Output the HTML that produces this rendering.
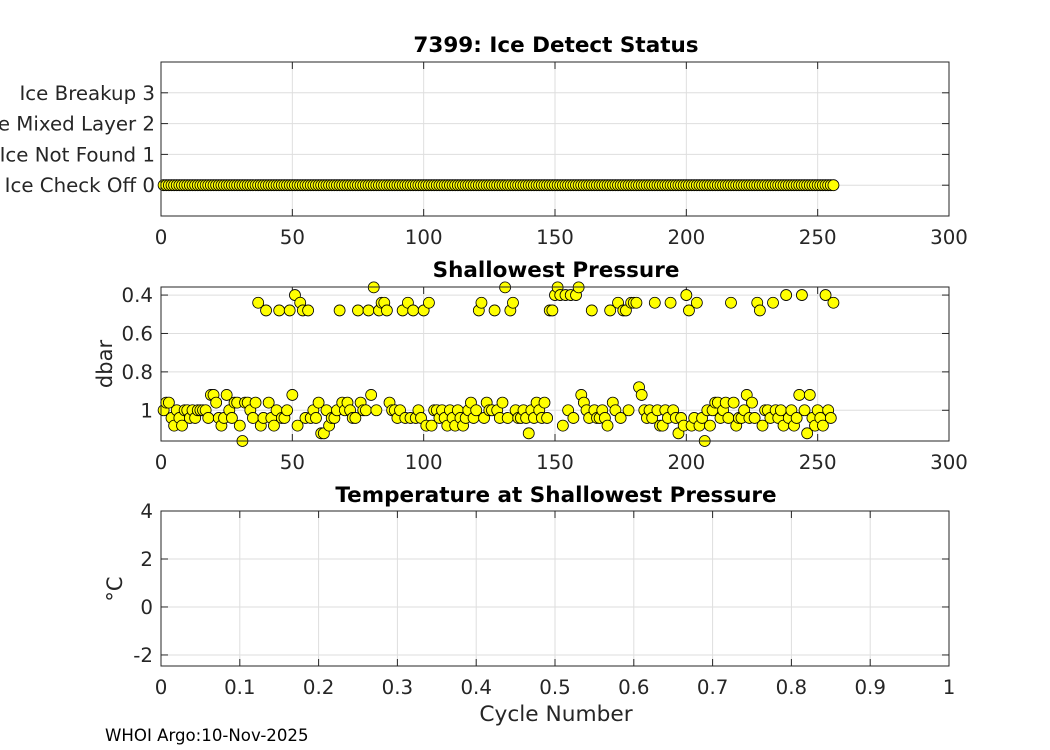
<!DOCTYPE html>
<html><head><meta charset="utf-8"><style>
html,body{margin:0;padding:0;background:#fff;}
svg{display:block;font-family:"DejaVu Sans","Liberation Sans",sans-serif;}
</style></head><body>
<svg id="chart" width="1050" height="750" viewBox="0 0 1050 750"></svg>
<script>
const iceCycles = Array.from({length:256},(_,i)=>i+1);
const iceStatus = Array.from({length:256},()=>0);
const iceTickLabels = ["Ice Check Off 0","Ice Not Found 1","Ice Mixed Layer 2","Ice Breakup 3"];
const iceTickValues = [0,1,2,3];
const pressureValues = [
1.0,0.96,0.96,1.04,1.08,1.0,1.04,1.08,1.0,1.0,
1.04,1.0,1.04,1.0,1.0,1.0,1.0,1.04,0.92,0.92,
0.96,1.04,1.08,1.04,0.92,1.0,1.04,0.96,0.96,1.08,
1.16,0.96,0.96,1.0,1.04,0.96,0.44,1.08,1.04,0.48,
0.96,1.04,1.08,1.0,0.48,1.04,1.04,1.0,0.48,0.92,
0.40,1.08,0.44,0.48,1.04,0.48,1.04,1.0,1.04,0.96,
1.12,1.12,1.0,1.08,1.04,1.04,1.0,0.48,0.96,1.0,
0.96,1.0,1.04,1.04,0.48,0.96,1.0,1.0,0.48,0.92,
0.36,1.0,0.48,0.44,0.44,0.48,0.96,1.0,1.0,1.04,
1.0,0.48,1.04,0.44,1.04,0.48,1.04,1.0,1.04,0.48,
1.08,0.44,1.08,1.0,1.0,1.04,1.0,1.04,1.08,1.0,
1.04,1.08,1.0,1.04,1.08,1.04,1.0,0.96,1.04,1.0,
0.48,0.44,1.04,0.96,1.0,1.0,0.48,1.0,1.04,0.96,
0.36,1.04,0.48,0.44,1.0,1.04,1.04,1.0,1.04,1.12,
1.0,1.04,0.96,1.0,1.04,0.96,1.04,0.48,0.48,0.40,
0.36,0.40,1.08,0.40,1.0,0.40,1.04,0.40,0.36,0.92,
0.96,1.0,1.04,0.48,1.0,1.04,1.04,1.0,1.04,1.08,
0.48,0.96,1.0,0.44,1.04,0.48,0.48,1.0,0.44,0.44,
0.44,0.88,0.92,1.0,1.04,1.0,1.04,0.44,1.0,1.08,
1.08,1.0,1.04,0.44,1.0,1.04,1.12,1.04,1.08,0.40,
0.48,1.08,1.04,0.44,1.08,1.04,1.16,1.0,1.08,1.0,
0.96,0.96,1.04,1.0,0.96,1.04,0.44,0.96,1.08,1.04,
1.04,1.0,0.92,1.04,0.96,1.04,0.44,0.48,1.08,1.0,
1.0,1.04,0.44,1.0,1.04,1.0,1.08,0.40,1.04,1.0,
1.08,1.04,0.92,0.40,1.0,1.12,0.92,1.04,1.08,1.0,
1.04,1.08,0.40,1.0,1.04,0.44];
const pressureCycles = Array.from({length:pressureValues.length},(_,i)=>i+1);
const xTicks300 = [0,50,100,150,200,250,300];
const pressureTicks = [0.4,0.6,0.8,1];
const pressureTickLabels = ["0.4","0.6","0.8","1"];
const tempTicks = [-2,0,2,4];
const xTicks1 = [0,0.1,0.2,0.3,0.4,0.5,0.6,0.7,0.8,0.9,1];

const NS="http://www.w3.org/2000/svg";
const svg=document.getElementById('chart');
function mk(tag,attrs,parent){const e=document.createElementNS(NS,tag);for(const k in attrs)e.setAttribute(k,attrs[k]);(parent||svg).appendChild(e);return e;}
function txt(s,attrs){const e=mk('text',attrs);e.textContent=s;return e;}
const L=161,R=949;
const TF=19.8;

function axes(top,bot,xmin,xmax,ymin,ymax,yrev,name){
  const g=mk('g',{});
  
  
  const sx=v=>L+(v-xmin)/(xmax-xmin)*(R-L);
  const sy=yrev?(v=>top+(v-ymin)/(ymax-ymin)*(bot-top)):(v=>bot-(v-ymin)/(ymax-ymin)*(bot-top));
  mk('rect',{x:L,y:top,width:R-L,height:bot-top,fill:'#fff'},g);
  return {g,sx,sy,top,bot};
}
function grid(ax,xt,yt,xlabels,ylabels,ylx){
  const g=ax.g;
  xt.forEach((v,i)=>{const x=ax.sx(v);
    mk('line',{x1:x,x2:x,y1:ax.top,y2:ax.bot,stroke:'#dedede','stroke-width':1},g);
    mk('line',{x1:x,x2:x,y1:ax.bot,y2:ax.bot-7,stroke:'#262626'},g);
    mk('line',{x1:x,x2:x,y1:ax.top,y2:ax.top+7,stroke:'#262626'},g);
    const t=txt(xlabels[i],{x:x,y:ax.bot+28,'font-size':TF,'text-anchor':'middle',fill:'#262626'});
    
    
  });
  yt.forEach((v,i)=>{const y=ax.sy(v);
    mk('line',{x1:L,x2:R,y1:y,y2:y,stroke:'#dedede','stroke-width':1},g);
    mk('line',{x1:L,x2:L+7,y1:y,y2:y,stroke:'#262626'},g);
    mk('line',{x1:R,x2:R-7,y1:y,y2:y,stroke:'#262626'},g);
    const t=txt(ylabels[i],{x:ylx,y:y+7,'font-size':TF,'text-anchor':'end',fill:'#262626'});
    
    
  });
}
function frame(ax){mk('rect',{x:L,y:ax.top,width:R-L,height:ax.bot-ax.top,fill:'none',stroke:'#262626','stroke-width':1});}

// Top: ice status
const a1=axes(62,216,0,300,-1,4,false,'ice-status-axes');
grid(a1,xTicks300,iceTickValues,xTicks300.map(String),iceTickLabels,155);
iceCycles.forEach((c,i)=>{const p=mk('circle',{cx:a1.sx(c),cy:a1.sy(iceStatus[i]),r:5.5,fill:'#ffff00',stroke:'#000','stroke-width':0.8});
  
  });
frame(a1);
let t=txt('7399: Ice Detect Status',{x:556,y:52,'font-size':21.5,'font-weight':'bold','text-anchor':'middle',fill:'#000'});


// Middle: pressure
const a2=axes(287,441,0,300,0.358,1.16,true,'pressure-axes');
grid(a2,xTicks300,pressureTicks,xTicks300.map(String),pressureTickLabels,153);
pressureCycles.forEach((c,i)=>{const p=mk('circle',{cx:a2.sx(c),cy:a2.sy(pressureValues[i]),r:5.5,fill:'#ffff00',stroke:'#000','stroke-width':0.8});
  
  });
frame(a2);
t=txt('Shallowest Pressure',{x:556,y:277,'font-size':21.5,'font-weight':'bold','text-anchor':'middle',fill:'#000'});

t=txt('dbar',{x:0,y:0,'font-size':21,'text-anchor':'middle',fill:'#262626',transform:'translate(112,364) rotate(-90)'});


// Bottom: temperature
const a3=axes(511,666,0,1,-2.46,4,false,'temperature-axes');
grid(a3,xTicks1,tempTicks,xTicks1.map(String),tempTicks.map(String),153);
frame(a3);
t=txt('Temperature at Shallowest Pressure',{x:556,y:502,'font-size':21.5,'font-weight':'bold','text-anchor':'middle',fill:'#000'});

t=txt('°C',{x:0,y:0,'font-size':21,'text-anchor':'middle',fill:'#262626',transform:'translate(122,589) rotate(-90)'});

t=txt('Cycle Number',{x:556,y:721,'font-size':21.7,'text-anchor':'middle',fill:'#262626'});

t=txt('WHOI Argo:10-Nov-2025',{x:105,y:741,'font-size':16.6,fill:'#000'});

</script>
</body></html>
